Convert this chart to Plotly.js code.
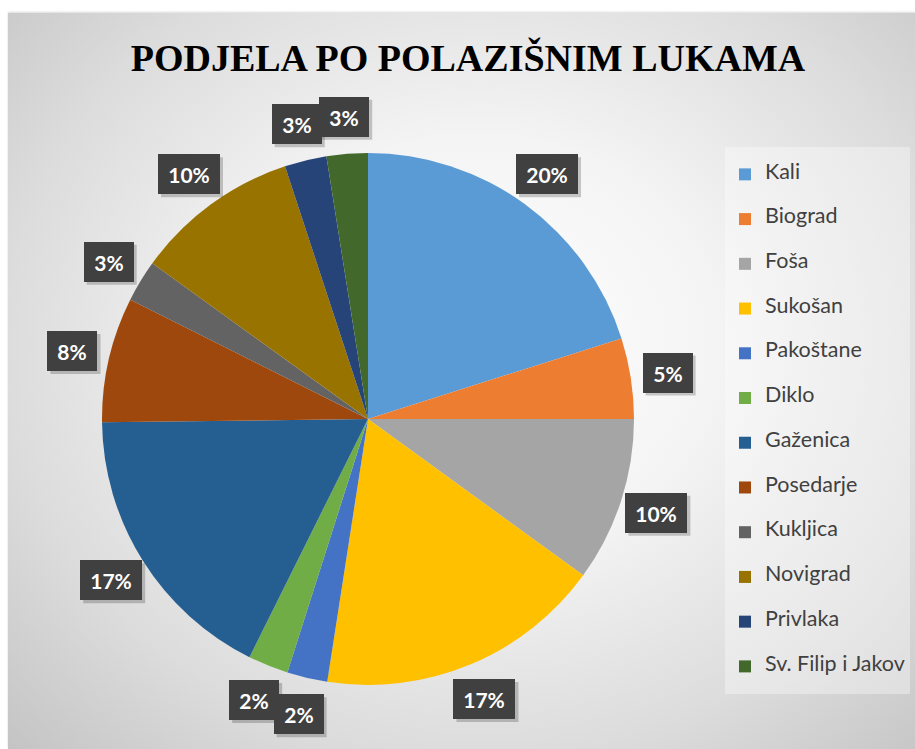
<!DOCTYPE html>
<html>
<head>
<meta charset="utf-8">
<script src="https://cdn.plot.ly/plotly-3.0.1.min.js"></script>
<style>
  html, body { margin: 0; padding: 0; background: #ffffff; }
  #bg { position: absolute; left: 8px; top: 13px; width: 907px; height: 736px;
        background: radial-gradient(ellipse 75% 80% at 52% 45%, #ffffff 0%, #f4f4f4 35%, #dcdcdc 70%, #c2c2c2 100%);
        box-shadow: 0 -1px 2px rgba(0,0,0,0.15); }
  #chart { position: absolute; left: 0; top: 0; width: 915px; height: 749px; }
</style>
</head>
<body>
<div id="bg"></div>
<div id="chart"></div>
<script>
// ---- data ----
const ports = ["Kali", "Biograd", "Foša", "Sukošan", "Pakoštane", "Diklo", "Gaženica",
               "Posedarje", "Kukljica", "Novigrad", "Privlaka", "Sv. Filip i Jakov"];
const shares = [20.1, 4.9, 10.0, 17.45, 2.45, 2.45, 17.45, 7.6, 2.55, 10.0, 2.55, 2.5];
const colors = ["#5B9BD5", "#ED7D31", "#A5A5A5", "#FFC000", "#4472C4", "#70AD47",
                "#255E91", "#9E480E", "#636363", "#997300", "#264478", "#43682B"];
const chartTitle = "PODJELA PO POLAZIŠNIM LUKAMA";

// ---- geometry (layout only) ----
const W = 915, H = 749;
const cx = 368, cy = 419, R = 266;           // pie centre / radius in pixels
const dom = { x: [(cx - R) / W, (cx + R) / W], y: [(H - cy - R) / H, (H - cy + R) / H] };

// legend labels: padded to three lines so entries get the reference spacing
const legendLabels = ports.map(p => " <br><span style='font-size:21.5px'>" + p + "</span><br> ");

const trace = {
  type: "pie",
  labels: legendLabels,
  values: shares,
  sort: false,
  direction: "clockwise",
  rotation: 0,
  marker: { colors: colors, line: { width: 0 } },
  textinfo: "none",
  hoverinfo: "none",
  domain: dom,
  showlegend: true
};

// percentage labels in dark boxes, placed at each slice's mid-angle
const total = shares.reduce((a, b) => a + b, 0);
const annotations = [];
const shapes = [];
let cum = 0;
shares.forEach((v, i) => {
  const mid = (cum + v / 2) / total;
  cum += v;
  const th = 2 * Math.PI * mid;
  const rl = R * 1.14;
  const px = cx + rl * Math.sin(th);
  const py = cy - rl * Math.cos(th);
  const txt = Math.round(v / total * 100) + "%";
  const bw = txt.length > 2 ? 62 : 50, bh = 40;
  // soft drop shadow behind each box
  shapes.push({
    type: "rect", xref: "paper", yref: "paper", layer: "above",
    x0: (px - bw / 2 + 3) / W, x1: (px + bw / 2 + 3) / W,
    y0: 1 - (py + bh / 2 + 3) / H, y1: 1 - (py - bh / 2 + 3) / H,
    fillcolor: "rgba(0,0,0,0.2)", line: { width: 0 }
  });
  annotations.push({
    xref: "paper", yref: "paper",
    x: px / W, y: 1 - py / H,
    xanchor: "center", yanchor: "middle",
    showarrow: false, text: txt,
    width: bw, height: bh, borderpad: 0, borderwidth: 0,
    bgcolor: "#404040",
    font: { family: "Lato, 'Open Sans', sans-serif", size: 21, weight: "bold", color: "#ffffff" }
  });
});

const layout = {
  width: W, height: H,
  margin: { l: 0, r: 0, t: 0, b: 0 },
  paper_bgcolor: "rgba(0,0,0,0)",
  plot_bgcolor: "rgba(0,0,0,0)",
  title: {
    text: "<b>" + chartTitle + "</b>",
    x: 468 / W, xanchor: "center",
    y: 1 - 58 / H, yanchor: "middle",
    font: { family: "'Liberation Serif', 'Times New Roman', serif", size: 38, color: "#000000" }
  },
  showlegend: true,
  legend: {
    x: 725 / W, xanchor: "left",
    y: 1 - 147 / H, yanchor: "top",
    bgcolor: "rgba(255,255,255,0.35)",
    borderwidth: 0,
    font: { family: "Lato, 'Open Sans', sans-serif", size: 10.7, color: "#404040" },
    itemclick: false, itemdoubleclick: false,
    traceorder: "normal"
  },
  shapes: shapes,
  annotations: annotations
};

Plotly.newPlot("chart", [trace], layout, { displayModeBar: false, staticPlot: true });
</script>
</body>
</html>
